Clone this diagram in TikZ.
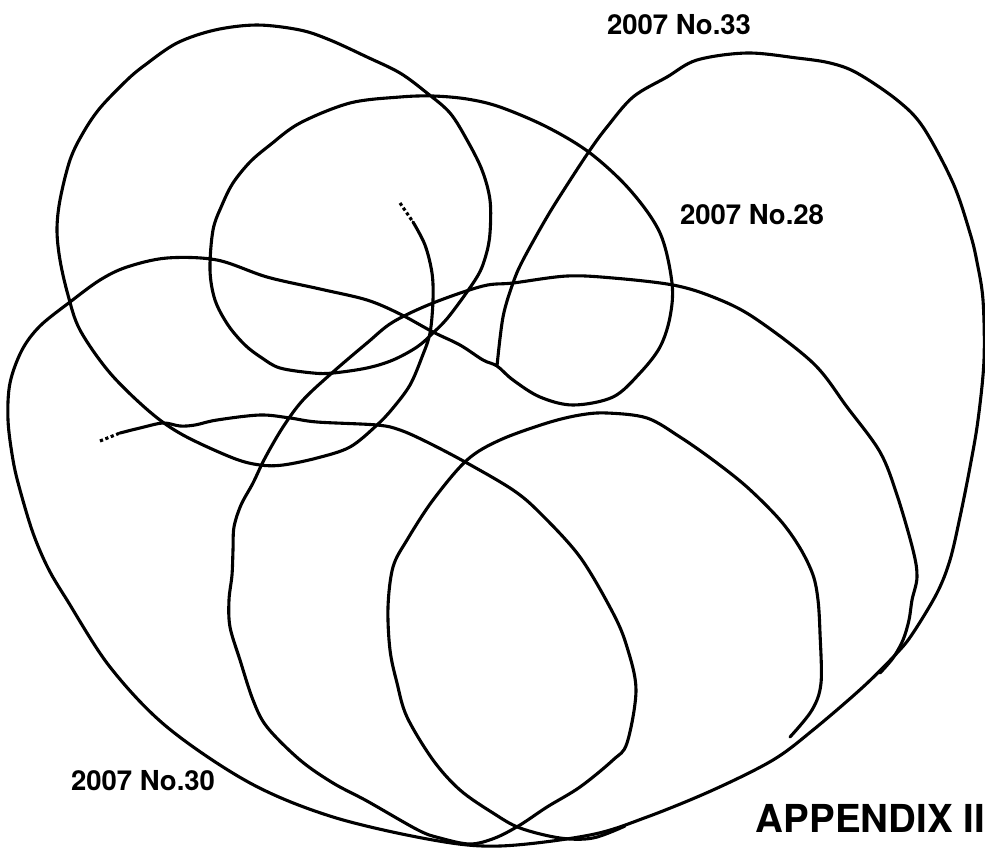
\documentclass[tikz,border=0pt]{standalone}
\usepackage{fontspec}
\setmainfont{TeX Gyre Heros}
\usepackage{tikz}

\begin{document}
\begin{tikzpicture}[x=1pt, y=-1pt,
    track/.style={line width=3.1pt, line join=round, line cap=round, tension=0.55},
    trackstart/.style={line width=3.1pt, dash pattern=on 3.2pt off 2.6pt},
    trklabel/.style={font=\bfseries\fontsize{27.5}{30}\selectfont, inner sep=0pt}]

    % frame of the page
    \useasboundingbox (0,0) rectangle (985,847);

    % Track that starts near the middle (double loop, then the big outer loop)
    \draw[trackstart] (400,203) -- (413,222);
    \draw[track] plot[smooth] coordinates {
        (413,222) (425,245) (432,273) (433,300) (430,333) (422,357) (410,385)
        (393,408) (377,425) (350,447) (317,458) (283,465) (260,465) (233,458)
        (183,435) (150,412) (110,373) (80,330) (68,295) (60,260) (57,230)
        (60,200) (70,160) (83,133) (100,108) (127,80) (145,65) (177,43) (215,30)
        (257,25) (300,30) (330,40) (367,57) (400,73) (427,93) (450,113) (467,140)
        (482,170) (490,200) (490,233) (486,255) (477,277) (450,315) (433,333)
        (417,347) (393,360) (367,368) (333,373) (313,373) (280,368) (262,358)
        (245,345) (228,325) (215,300) (210,270) (213,230) (222,205) (233,183)
        (250,162) (270,145) (300,123) (350,103) (400,97) (433,96) (467,99)
        (500,107) (547,127) (590,153) (630,190) (660,233) (672,283) (670,317)
        (660,347) (640,373) (613,397) (573,405) (540,397) (513,380) (497,366)
        (483,360) (460,345) (433,332) (400,314) (367,300) (320,289) (267,277)
        (217,260) (167,258) (127,267) (100,280) (70,302) (40,326) (22,350)
        (10,383) (8,420) (13,460) (20,490) (33,533) (48,568) (67,600) (110,667)
        (167,727) (250,783) (333,817) (433,840) (500,846) (590,835) (647,817)
        (713,790) (773,760) (813,730) (863,687) (897,653) (913,633) (937,593)
        (950,560) (960,517) (970,467) (978,420) (984,360) (983,300) (977,262)
        (970,233) (953,183) (923,127) (897,100) (857,73) (830,63) (797,58)
        (747,53) (697,60) (667,77) (633,97) (607,127) (590,150) (567,185)
        (547,217) (523,260) (513,283) (503,317) (497,366)};

    % Track that starts on the left (runs right, loops down and up again)
    \draw[trackstart] (100,441) -- (120,433);
    \draw[track] plot[smooth] coordinates {
        (120,433) (140,428) (163,423) (180,426) (195,425) (217,420) (260,415)
        (290,418) (317,422) (377,425) (400,430) (427,442) (467,463) (513,490)
        (540,513) (580,557) (613,613) (627,647) (636,690) (627,743) (613,760)
        (580,787) (547,807) (520,825) (495,838) (470,844) (440,838) (418,830)
        (367,801) (333,783) (300,760) (267,727) (253,700) (240,660) (230,627)
        (229,600) (232,575) (233,550) (234,527) (241,505) (253,483) (265,458)
        (283,427) (303,400) (333,372) (367,343) (393,322) (433,303) (483,286)
        (513,283) (567,276) (613,278) (673,285) (713,297) (753,317) (813,363)
        (847,407) (880,452) (897,495) (913,550) (917,577) (912,600) (909,620)
        (903,640) (893,658) (880,673)};

    % Track that ends inside the right loop
    \draw[track] plot[smooth] coordinates {
        (625,826) (593,838) (560,838) (520,828) (493,813) (460,790) (433,760)
        (407,717) (397,683) (390,650) (388,607) (393,567) (407,540) (433,500)
        (467,460) (500,440) (547,423) (580,415) (607,413) (647,418) (680,437)
        (713,460) (747,487) (780,520) (800,548) (813,575) (818,600) (820,633)
        (821,683) (812,710) (790,737)};

    % Labels
    \node[trklabel] (no33) at (679,25) {2007 No.33};
    \node[trklabel] (no28) at (752,215) {2007 No.28};
    \node[trklabel] (no30) at (143,781) {2007 No.30};
    \node[trklabel, font=\bfseries\fontsize{38.5}{42}\selectfont, anchor=south east]
        (appx) at (985,833) {APPENDIX II};

\end{tikzpicture}
\end{document}
